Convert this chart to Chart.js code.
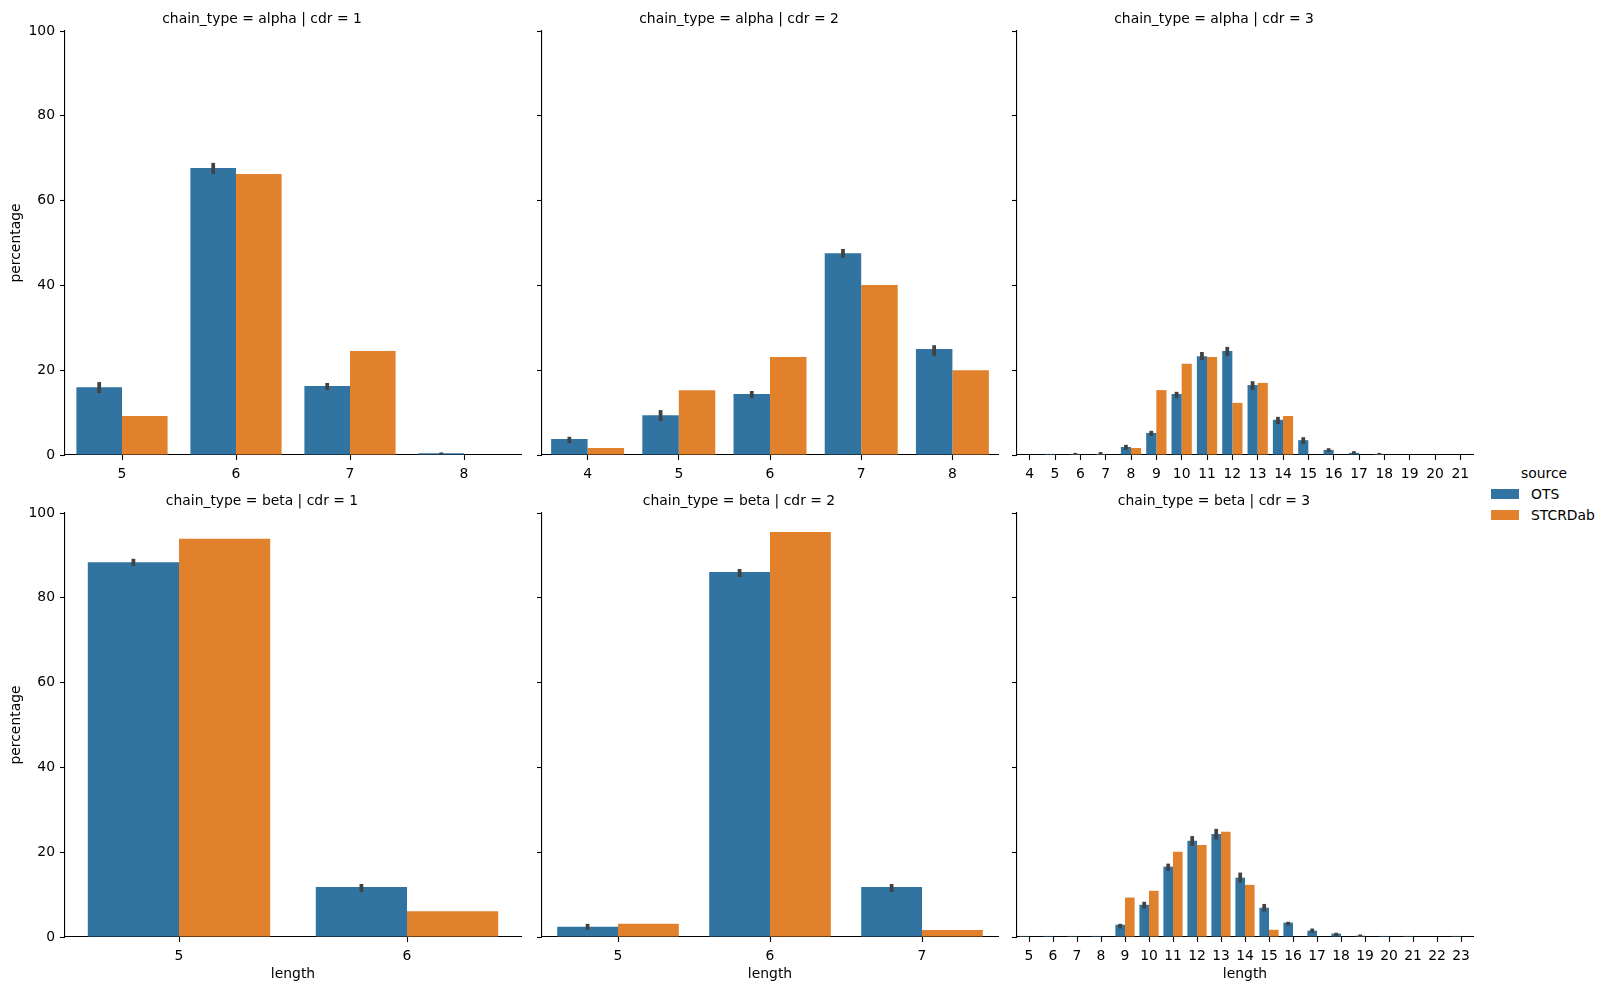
<!DOCTYPE html>
<html><head><meta charset="utf-8">
<script src="https://cdn.jsdelivr.net/npm/chart.js@4.4.1/dist/chart.umd.min.js"></script>
<style>
html,body{margin:0;padding:0;background:#fff;width:1606px;height:990px;overflow:hidden;position:relative;font-family:'DejaVu Sans',sans-serif;}
canvas{position:absolute;}
.leg{position:absolute;font-size:13.9px;color:#000;white-space:nowrap;line-height:16px;height:16px;}
.sw{position:absolute;width:28px;height:10px;}
</style></head><body>
<div class="leg" style="left:1521px;top:465px;">source</div>
<div class="sw" style="left:1491px;top:489px;background:#3274a1;"></div>
<div class="leg" style="left:1531px;top:486px;">OTS</div>
<div class="sw" style="left:1491px;top:510px;background:#e1812c;"></div>
<div class="leg" style="left:1531px;top:507px;">STCRDab</div>
<script>
// ---------- data ----------
const seriesNames = ['OTS', 'STCRDab'];

// alpha, cdr 1
const a1Labels = ['5', '6', '7', '8'];
const a1Ots    = [16.0, 67.7, 16.3, 0.4];
const a1Stcr   = [9.2, 66.3, 24.5, 0];
const a1OtsLo  = [14.6, 66.3, 15.3, 0.2];
const a1OtsHi  = [17.2, 68.9, 17.0, 0.6];

// alpha, cdr 2
const a2Labels = ['4', '5', '6', '7', '8'];
const a2Ots    = [3.8, 9.4, 14.4, 47.6, 25.0];
const a2Stcr   = [1.65, 15.3, 23.1, 40.1, 20.0];
const a2OtsLo  = [2.8, 8.0, 13.4, 46.5, 23.3];
const a2OtsHi  = [4.3, 10.6, 15.1, 48.6, 25.9];

// alpha, cdr 3
const a3Labels = ['4','5','6','7','8','9','10','11','12','13','14','15','16','17','18','19','20','21'];
const a3Ots    = [0, 0.25, 0.25, 0.25, 1.9, 5.2, 14.4, 23.3, 24.5, 16.5, 8.3, 3.5, 1.2, 0.5, 0.25, 0, 0, 0];
const a3Stcr   = [0, 0, 0, 0, 1.65, 15.3, 21.5, 23.1, 12.3, 17.0, 9.2, 0, 0, 0, 0, 0, 0, 0];
const a3OtsLo  = [null, null, 0.0, 0.0, 1.2, 4.5, 13.4, 22.4, 23.3, 15.3, 7.3, 2.6, 0.7, 0.1, 0.0, null, null, null];
const a3OtsHi  = [null, null, 0.5, 0.7, 2.4, 5.7, 14.9, 24.3, 25.5, 17.4, 9.0, 4.2, 1.6, 0.9, 0.5, null, null, null];

// beta, cdr 1
const b1Labels = ['5', '6'];
const b1Ots    = [88.4, 11.8];
const b1Stcr   = [93.9, 6.1];
const b1OtsLo  = [87.5, 10.6];
const b1OtsHi  = [89.2, 12.5];

// beta, cdr 2
const b2Labels = ['5', '6', '7'];
const b2Ots    = [2.4, 86.1, 11.8];
const b2Stcr   = [3.1, 95.5, 1.65];
const b2OtsLo  = [1.7, 84.9, 10.6];
const b2OtsHi  = [3.1, 86.8, 12.5];

// beta, cdr 3
const b3Labels = ['5','6','7','8','9','10','11','12','13','14','15','16','17','18','19','20','21','22','23'];
const b3Ots    = [0.25, 0.25, 0.25, 0.25, 2.9, 7.6, 16.6, 22.7, 24.3, 14.0, 6.9, 3.4, 1.5, 0.8, 0.3, 0.25, 0.25, 0, 0.25];
const b3Stcr   = [0, 0, 0, 0, 9.3, 10.9, 20.1, 21.7, 24.8, 12.3, 1.7, 0, 0, 0, 0, 0, 0, 0, 0];
const b3OtsLo  = [null, null, null, null, 2.0, 6.7, 15.6, 21.5, 23.0, 12.8, 6.0, 2.7, 1.0, 0.2, 0.0, null, null, null, null];
const b3OtsHi  = [null, null, null, null, 3.1, 8.3, 17.3, 23.8, 25.5, 15.2, 7.8, 3.6, 2.0, 1.0, 0.6, null, null, null, null];

const yTicks = [0, 20, 40, 60, 80, 100];

// ---------- styling ----------
const OTS_COLOR = '#3274a1';
const ST_COLOR = '#e1812c';
const FONT = {family: "'DejaVu Sans'", size: 13.9, weight: 'normal'};
Chart.defaults.color = '#000';
Chart.defaults.font.family = "'DejaVu Sans'";
Chart.defaults.font.size = 13.9;

const errPlugin = {
  id: 'errbars',
  afterDatasetsDraw(chart) {
    const eb = chart.options.plugins.errbars;
    if (!eb) return;
    const meta = chart.getDatasetMeta(0);
    const ys = chart.scales.y;
    const ctx = chart.ctx;
    ctx.save();
    ctx.strokeStyle = '#424242';
    ctx.lineWidth = 3.75;
    ctx.lineCap = 'butt';
    meta.data.forEach((el, i) => {
      const lo = eb.lo[i], hi = eb.hi[i];
      if (lo == null || hi == null) return;
      ctx.beginPath();
      ctx.moveTo(el.x, ys.getPixelForValue(lo));
      ctx.lineTo(el.x, ys.getPixelForValue(hi));
      ctx.stroke();
    });
    ctx.restore();
  }
};

const L = 62, R = 62, PW = 456;
const panels = [
  {left: 65,   top: 0,   h: 482, B: 27, labels: a1Labels, ots: a1Ots, st: a1Stcr, lo: a1OtsLo, hi: a1OtsHi, title: 'chain_type = alpha | cdr = 1', yl: true,  xt: false},
  {left: 542,  top: 0,   h: 482, B: 27, labels: a2Labels, ots: a2Ots, st: a2Stcr, lo: a2OtsLo, hi: a2OtsHi, title: 'chain_type = alpha | cdr = 2', yl: false, xt: false},
  {left: 1017, top: 0,   h: 482, B: 27, labels: a3Labels, ots: a3Ots, st: a3Stcr, lo: a3OtsLo, hi: a3OtsHi, title: 'chain_type = alpha | cdr = 3', yl: false, xt: false},
  {left: 65,   top: 482, h: 507, B: 52, labels: b1Labels, ots: b1Ots, st: b1Stcr, lo: b1OtsLo, hi: b1OtsHi, title: 'chain_type = beta | cdr = 1',  yl: true,  xt: true},
  {left: 542,  top: 482, h: 507, B: 52, labels: b2Labels, ots: b2Ots, st: b2Stcr, lo: b2OtsLo, hi: b2OtsHi, title: 'chain_type = beta | cdr = 2',  yl: false, xt: true},
  {left: 1017, top: 482, h: 507, B: 52, labels: b3Labels, ots: b3Ots, st: b3Stcr, lo: b3OtsLo, hi: b3OtsHi, title: 'chain_type = beta | cdr = 3',  yl: false, xt: true}
];

panels.forEach(p => {
  const c = document.createElement('canvas');
  const w = L + PW + R;
  c.width = w; c.height = p.h;
  c.style.width = w + 'px'; c.style.height = p.h + 'px';
  c.style.left = (p.left - L) + 'px'; c.style.top = p.top + 'px';
  document.body.appendChild(c);
  const axisGrid = {display: true, drawOnChartArea: false, drawTicks: true, tickLength: 5, tickWidth: 1.1, tickColor: '#000'};
  new Chart(c, {
    type: 'bar',
    data: {
      labels: p.labels,
      datasets: [
        {label: seriesNames[0], data: p.ots, backgroundColor: OTS_COLOR, borderWidth: 0, categoryPercentage: 0.8, barPercentage: 1.0},
        {label: seriesNames[1], data: p.st, backgroundColor: ST_COLOR, borderWidth: 0, categoryPercentage: 0.8, barPercentage: 1.0}
      ]
    },
    options: {
      responsive: false, animation: false, devicePixelRatio: 1,
      layout: {padding: {left: 0, right: R, top: 0, bottom: 0}},
      plugins: {
        legend: {display: false}, tooltip: {enabled: false},
        title: {display: true, text: p.title, color: '#000', font: {family: "'DejaVu Sans'", size: 13.9, weight: 'normal', lineHeight: '17px'}, padding: {top: 10.5, bottom: 3.5}},
        errbars: {lo: p.lo, hi: p.hi}
      },
      scales: {
        x: {
          type: 'category', offset: true,
          grid: Object.assign({offset: false}, axisGrid),
          border: {display: true, color: '#000', width: 1.1},
          ticks: {color: '#000', font: FONT, padding: 6, autoSkip: false, maxRotation: 0, minRotation: 0},
          title: {display: p.xt, text: 'length', color: '#000', font: FONT, padding: {top: 0, bottom: 6.5}},
          afterFit: s => { s.height = p.B; }
        },
        y: {
          min: 0, max: 100,
          afterBuildTicks: s => { s.ticks = yTicks.map(v => ({value: v})); },
          grid: axisGrid,
          border: {display: true, color: '#000', width: 1.1},
          ticks: {display: true, color: p.yl ? '#000' : 'rgba(0,0,0,0)', font: FONT, padding: 5},
          title: {display: p.yl, text: 'percentage', color: '#000', font: FONT, padding: {top: 5, bottom: 0}},
          afterFit: s => { s.width = L; }
        }
      }
    },
    plugins: [errPlugin]
  });
});
</script>
</body></html>
